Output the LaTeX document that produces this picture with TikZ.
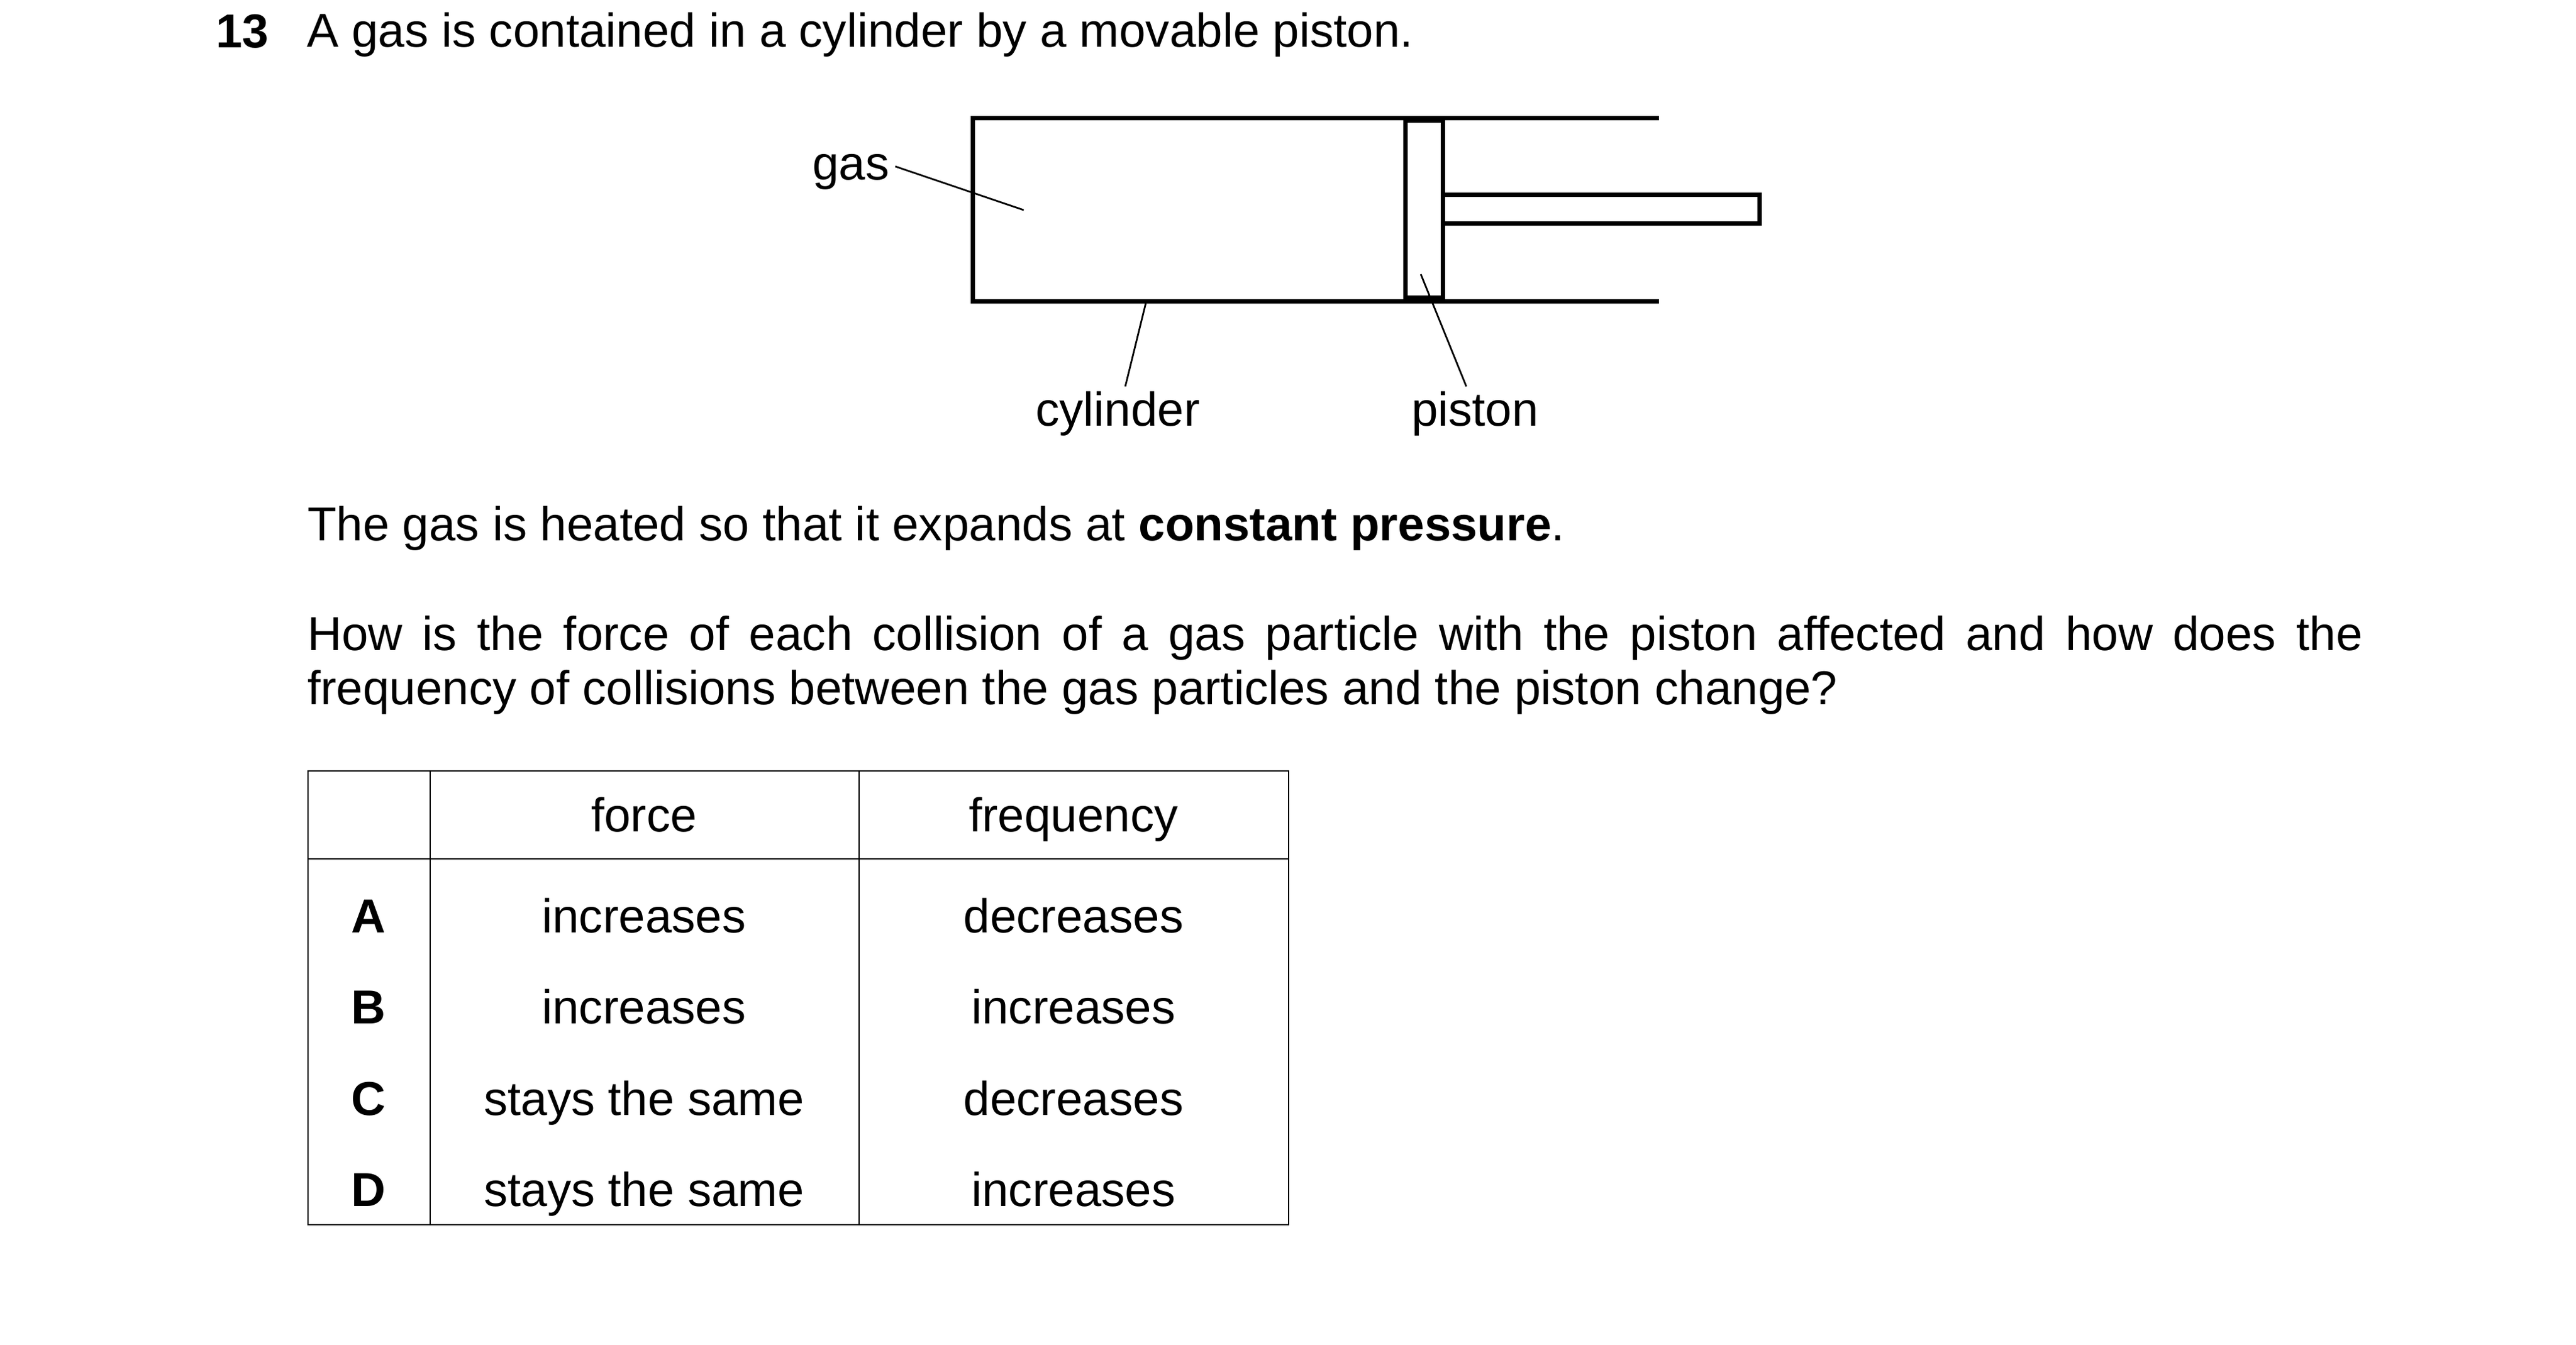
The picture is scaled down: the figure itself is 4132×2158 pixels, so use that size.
\documentclass[tikz,border=0pt]{standalone}
\usepackage{fontspec}
\setmainfont{Liberation Sans}
\tikzset{
  x=0.2pt,y=-0.2pt,
  txt/.style={anchor=base west,inner sep=0pt,outer sep=0pt,font=\fontsize{15.28pt}{17pt}\selectfont,text=black},
  ctr/.style={anchor=base,inner sep=0pt,outer sep=0pt,font=\fontsize{15.28pt}{17pt}\selectfont,text=black},
  lbl/.style={ctr},
  wall/.style={draw=black,line width=1.4pt,line cap=butt,line join=miter},
  lead/.style={draw=black,line width=0.55pt},
  grid/.style={draw=black,line width=0.55pt,line cap=rect},
}
\begin{document}
\begin{tikzpicture}
\useasboundingbox[fill=white] (0,0) rectangle (4132,2158);
\node[txt] (num) at (346,77) {\textbf{13}};
\node[txt] (l1) at (492,76) {A gas is contained in a cylinder by a movable piston.};
\node[txt] (l2) at (493,867) {The gas is heated so that it expands at \textbf{constant pressure}.};
\node[txt] (l3) at (493,1043) {\hbox to 659.4pt{How\hfill is\hfill the\hfill force\hfill of\hfill each\hfill collision\hfill of\hfill a\hfill gas\hfill particle\hfill with\hfill the\hfill piston\hfill affected\hfill and\hfill how\hfill does\hfill the}};
\node[txt] (l4) at (493,1130) {frequency of collisions between the gas particles and the piston change?};
% cylinder
\draw[wall] (2661,190) -- (1560,190) -- (1560,483) -- (2661,483);
% rod
\draw[wall] (2312,313) -- (2822,313) -- (2822,359) -- (2312,359);
% piston
\draw[wall] (2254,194) rectangle (2314,477);
% labels
\node[lbl] (gas) at (1365,288) {gas};
\node[lbl] (cyl) at (1793,683) {cylinder};
\node[lbl] (pis) at (2366,683) {piston};
\coordinate (g1) at (1436,267); \coordinate (g2) at (1642,337);
\coordinate (c1) at (1838,486); \coordinate (c2) at (1805,620);
\coordinate (p1) at (2279,440); \coordinate (p2) at (2352,620);
\draw[lead] (g1) -- (g2);
\draw[lead] (c1) -- (c2);
\draw[lead] (p1) -- (p2);
% table
\draw[grid] (494,1237) rectangle (2067,1965);
\draw[grid] (494,1378) -- (2067,1378);
\draw[grid] (690,1237) -- (690,1965);
\draw[grid] (1378,1237) -- (1378,1965);
\node[ctr] (hf) at (1033,1334) {force};
\node[ctr] (hq) at (1722,1334) {frequency};
\node[ctr] (la) at (591,1496) {\textbf{A}};
\node[ctr] (lb) at (591,1642) {\textbf{B}};
\node[ctr] (lc) at (591,1789) {\textbf{C}};
\node[ctr] (ld) at (591,1935) {\textbf{D}};
\node[ctr] (fa) at (1033,1496) {increases};
\node[ctr] (fb) at (1033,1642) {increases};
\node[ctr] (fc) at (1033,1789) {stays the same};
\node[ctr] (fd) at (1033,1935) {stays the same};
\node[ctr] (qa) at (1722,1496) {decreases};
\node[ctr] (qb) at (1722,1642) {increases};
\node[ctr] (qc) at (1722,1789) {decreases};
\node[ctr] (qd) at (1722,1935) {increases};
\end{tikzpicture}
\end{document}
